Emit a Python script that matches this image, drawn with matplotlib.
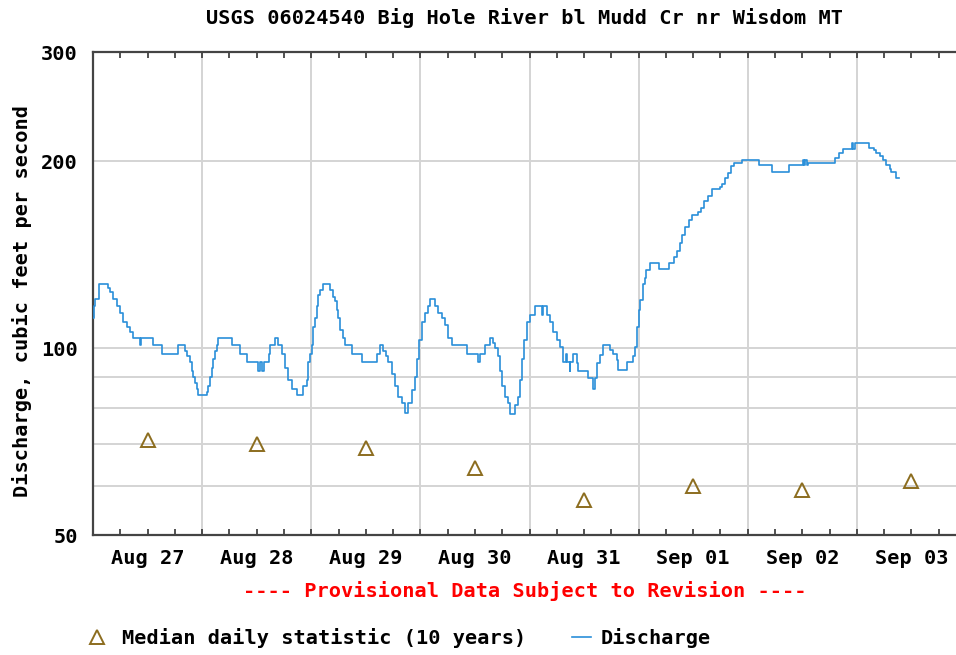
import matplotlib
matplotlib.use('Agg')
import matplotlib.pyplot as plt
from matplotlib.ticker import FixedLocator, FixedFormatter, NullLocator

title = "USGS 06024540 Big Hole River bl Mudd Cr nr Wisdom MT"
day_labels = ["Aug 27", "Aug 28", "Aug 29", "Aug 30", "Aug 31", "Sep 01", "Sep 02", "Sep 03"]
median_cfs = [71, 70, 69, 64, 57, 60, 59, 61]
y_ticks = [50, 100, 200, 300]
y_grid = [60, 70, 80, 90, 100, 200]

# hours since Aug 27 00:00, discharge (cfs) -- level changes
hours = [0.0, 0.25, 0.5, 1.3, 3.3, 3.7, 4.4, 5.2, 5.9, 6.6, 7.4, 8.1, 8.8, 10.3, 10.55,
         13.2, 15.1, 18.6, 20.2, 20.6, 21.3, 21.7, 22.0, 22.4, 22.8, 23.1, 25.0, 25.3,
         25.7, 26.1, 26.5, 26.8, 27.2, 27.5, 30.5, 32.3, 33.8, 36.3, 36.8, 37.1, 37.5,
         38.6, 38.9, 40.0, 40.7, 41.5, 42.2, 42.9, 43.7, 44.8, 46.2, 47.0, 47.3, 47.7,
         48.1, 48.4, 48.8, 49.2, 49.5, 50.0, 50.5, 52.1, 52.8, 53.2, 53.6, 53.9, 54.4,
         54.9, 55.4, 56.9, 59.1, 62.5, 63.1, 63.8, 64.5, 64.9, 65.7, 66.4, 67.1, 67.9,
         68.6, 69.3, 70.1, 70.8, 71.3, 71.7, 72.3, 73.0, 73.7, 74.2, 75.2, 75.9, 76.7,
         77.4, 78.1, 78.9, 82.2, 84.7, 85.1, 86.2, 87.3, 88.0, 88.4, 89.1, 89.5, 89.9,
         90.6, 91.3, 91.7, 92.8, 93.5, 93.9, 94.3, 94.8, 95.4, 96.1, 97.2, 98.7, 98.9,
         99.8, 100.5, 101.2, 102.0, 102.7, 103.4, 104.0, 104.2, 104.8, 105.0, 105.6,
         106.4, 106.6, 108.9, 110.0, 110.4, 110.8, 111.5, 112.2, 113.7, 114.4, 115.2,
         115.5, 117.4, 118.8, 119.2, 119.6, 120.1, 120.4, 121.0, 121.4, 121.7, 122.5,
         124.5, 126.7, 127.8, 128.4, 129.1, 129.6, 130.1, 131.1, 131.8, 133.1, 133.7,
         134.4, 135.2, 136.1, 137.8, 138.3, 139.0, 139.6, 140.4, 141.0, 142.7, 146.5,
         149.3, 153.1, 156.1, 156.4, 156.7, 157.0, 157.3, 163.2, 164.0, 164.9, 166.9,
         167.1, 167.6, 170.7, 171.7, 172.3, 173.0, 173.8, 174.5, 175.2, 175.6, 176.6,
         177.3]
cfs = [112, 117, 120, 127, 125, 123, 120, 117, 114, 110, 108, 106, 104, 101, 104,
       101, 98, 101, 99, 97, 95, 92, 90, 88, 86, 84, 85, 87,
       90, 93, 96, 99, 101, 104, 101, 98, 95, 92, 95, 92, 95,
       98, 101, 104, 101, 98, 93, 89, 86, 84, 87, 89, 95, 98,
       101, 108, 112, 117, 122, 124, 127, 124, 121, 119, 115, 112, 107,
       104, 101, 98, 95, 98, 101, 99, 97, 95, 91, 87, 83.5, 81.5,
       78.5, 81.5, 85.5, 90, 96, 103, 110, 114, 117, 120, 117, 114, 112,
       109, 104, 101, 98, 95, 98, 101, 104, 102, 100, 97, 92, 87,
       83.5, 81.5, 78.3, 81, 83.5, 89, 96, 103, 110, 113, 117, 113, 117,
       113, 110, 106, 103, 100.5, 95, 98, 95, 92, 95, 98,
       94.5, 92, 89.4, 86, 89.4, 94.5, 97.5, 101, 99.5, 98, 95.7,
       92.2, 95, 97, 100.5, 108, 115, 119.5, 127, 129.5, 133.6, 137,
       134, 137, 140, 143.5, 147.5, 152, 157, 161, 164, 166, 168,
       172.6, 176, 180.4, 182, 184, 188, 191.6, 196.4, 198.4, 201, 197.6,
       192.3, 197.6, 201, 197.6, 201, 197.6, 198.4, 202.6, 206, 209.6, 213.9,
       209.6, 213.9, 210.2, 208.9, 206.6, 203.6, 200.7, 197.6, 194.1, 191.9, 188.2,
       188.2]

plt.rcParams['font.family'] = ['DejaVu Sans Mono']
plt.rcParams['font.weight'] = 'bold'
FS = 14.6

fig = plt.figure(figsize=(9.56, 6.55), dpi=100)
ax = fig.add_axes([93 / 956, 1 - 535 / 655, (966 - 93) / 956, (535 - 52) / 655])

ndays = len(day_labels)
ax.set_xlim(0, 24 * ndays)
ax.set_yscale('log')
ax.set_ylim(50, 300)

grid_c = '#d4d4d4'
for g in y_grid:
    ax.axhline(g, color=grid_c, lw=1.4, zorder=0)
for d in range(1, ndays):
    ax.axvline(24 * d, color=grid_c, lw=1.4, zorder=0)

line, = ax.plot(hours, cfs, drawstyle='steps-post', color='#2a8fd9', lw=1.2,
                zorder=3, label='Discharge')
median_hours = [12 + 24 * i for i in range(len(median_cfs))]
tri, = ax.plot(median_hours, median_cfs, ls='none', marker='^', ms=10,
               mfc='none', mec='#8c6d1f', mew=1.4, zorder=4,
               label='Median daily statistic (10 years)')

ax.yaxis.set_major_locator(FixedLocator(y_ticks))
ax.yaxis.set_major_formatter(FixedFormatter([str(v) for v in y_ticks]))
ax.yaxis.set_minor_locator(NullLocator())
ax.tick_params(axis='y', length=0, pad=11, labelsize=FS)

xt = list(range(0, 24 * ndays + 1, 6))
xl = []
for t in xt:
    if t % 24 == 12 and t // 24 < ndays:
        xl.append(day_labels[t // 24])
    else:
        xl.append('')
ax.set_xticks(xt)
ax.set_xticklabels(xl)
ax.tick_params(axis='x', direction='in', length=4, width=1.2, color='#333333',
               top=True, bottom=True, labelsize=FS, pad=10)

for s in ['top', 'bottom', 'left']:
    ax.spines[s].set_color('#444444')
    ax.spines[s].set_linewidth(1.6)
ax.spines['right'].set_visible(False)

fig.text(525 / 956, 1 - 18 / 655, title, ha='center', va='center', fontsize=FS)
fig.text(525 / 956, 1 - 591 / 655, '---- Provisional Data Subject to Revision ----',
         ha='center', va='center', fontsize=FS, color='#ff0000')
fig.text(22 / 956, 1 - 301 / 655, 'Discharge, cubic feet per second', rotation=90,
         ha='center', va='center', fontsize=FS)

fig.legend([tri], [tri.get_label()], loc='center left',
           bbox_to_anchor=(87 / 956, 1 - 638 / 655), frameon=False, fontsize=FS,
           handlelength=1.0, handletextpad=0.75, borderpad=0, borderaxespad=0)
fig.legend([line], [line.get_label()], loc='center left',
           bbox_to_anchor=(572 / 956, 1 - 638 / 655), frameon=False, fontsize=FS,
           handlelength=0.95, handletextpad=0.45, borderpad=0, borderaxespad=0)

fig.savefig('out.png', dpi=100)
